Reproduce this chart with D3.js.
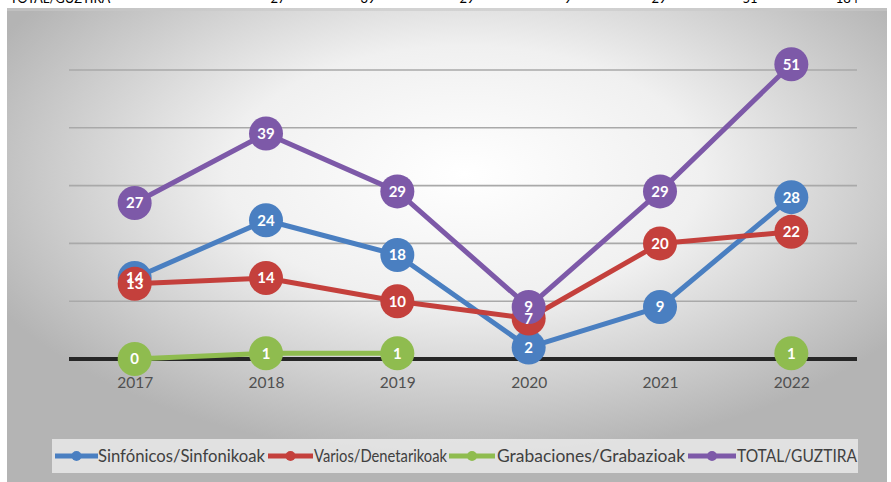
<!DOCTYPE html>
<html><head><meta charset="utf-8">
<script src="https://cdn.jsdelivr.net/npm/d3@7/dist/d3.min.js"></script>
<style>html,body{margin:0;padding:0;background:#fff;}svg{display:block;}</style>
</head><body>
<script>
const years = ["2017","2018","2019","2020","2021","2022"];
const sinfonicos = [14, 24, 18, 2, 9, 28];
const varios = [13, 14, 10, 7, 20, 22];
const grabaciones = [0, 1, 1, null, null, 1];
const total = [27, 39, 29, 9, 29, 51];
const seriesNames = ["Sinfónicos/Sinfonikoak","Varios/Denetarikoak","Grabaciones/Grabazioak","TOTAL/GUZTIRA"];
const seriesColors = ["#4a7fc1","#c4403c","#8fbc4f","#7d59a8"];
const yTicks = [10, 20, 30, 40, 50];
const topRowLabel = "TOTAL/GUZTIRA";
const topRowValues = ["27","39","29","9","29","51","184"];

const W = 891, H = 482;
const svg = d3.select("body").append("svg").attr("width", W).attr("height", H);
const defs = svg.append("defs");
const rg = defs.append("radialGradient").attr("id","bg")
  .attr("cx","0.52").attr("cy","0.35").attr("r","0.6").attr("fx","0.52").attr("fy","0.35");
rg.append("stop").attr("offset","0").attr("stop-color","#ffffff");
rg.append("stop").attr("offset","0.45").attr("stop-color","#f0f0f0");
rg.append("stop").attr("offset","1").attr("stop-color","#b4b4b4");

// cut-off top row
const topG = svg.append("g").attr("font-family","Lato, sans-serif").attr("font-size",13).attr("fill","#000");
topG.append("text").attr("x",10).attr("y",2.5).text(topRowLabel);
const topX = [278, 368, 467, 568, 659, 750, 847];
topRowValues.forEach((v,i)=>topG.append("text").attr("x",topX[i]).attr("y",2.5).attr("text-anchor","middle").text(v));

// panel
svg.append("rect").attr("x",7).attr("y",8).attr("width",880).attr("height",474).attr("fill","url(#bg)");
svg.append("rect").attr("x",7).attr("y",8).attr("width",880).attr("height",3).attr("fill","#c8c8c8").attr("opacity",0.6);

const x = d3.scalePoint().domain(years).range([69, 857]).padding(0.5);
const y = d3.scaleLinear().domain([0, 60]).range([359, 12.2]);

// gridlines
svg.append("g").selectAll("line").data(yTicks).join("line")
  .attr("x1",69).attr("x2",857).attr("y1",d=>y(d)).attr("y2",d=>y(d))
  .attr("stroke","#a9a9a9").attr("stroke-width",1.6);

// x axis
const xAxis = svg.append("g").attr("transform",`translate(0,${y(0)})`)
  .call(d3.axisBottom(x).tickSize(0).tickPadding(18));
xAxis.select(".domain").attr("stroke","#262626").attr("stroke-width",4).attr("d","M69,0H857");
xAxis.selectAll("text").attr("font-family","Lato, sans-serif").attr("font-size",15.5).attr("fill","#505050");

const data = [sinfonicos, varios, grabaciones, total];
const line = d3.line().defined(d=>d!=null).x((d,i)=>x(years[i])).y(d=>y(d));

data.forEach((s,k)=>{
  const g = svg.append("g");
  g.append("path").datum(s).attr("d", line).attr("fill","none")
    .attr("stroke", seriesColors[k]).attr("stroke-width",5).attr("stroke-linejoin","round");
  g.selectAll("circle").data(s.map((v,i)=>({v,i})).filter(d=>d.v!=null)).join("circle")
    .attr("cx",d=>x(years[d.i])).attr("cy",d=>y(d.v)).attr("r",17).attr("fill",seriesColors[k]);
});
data.forEach((s,k)=>{
  svg.append("g").selectAll("text").data(s.map((v,i)=>({v,i})).filter(d=>d.v!=null)).join("text")
    .attr("x",d=>x(years[d.i])).attr("y",d=>y(d.v)).attr("dy","0.36em").attr("text-anchor","middle")
    .attr("font-family","Lato, sans-serif").attr("font-weight","bold").attr("font-size",15).attr("fill","#fff")
    .text(d=>d.v);
});

// legend
svg.append("rect").attr("x",52).attr("y",439).attr("width",806).attr("height",34).attr("fill","#f3f3f3").attr("opacity",0.7);
const legItems = [
  {ls:55, le:98, ts:98, te:265},
  {ls:268, le:313, ts:314, te:447},
  {ls:449, le:495, ts:497, te:685},
  {ls:688, le:736, ts:737, te:857}
];
const ly = 456;
legItems.forEach((p,k)=>{
  svg.append("line").attr("x1",p.ls).attr("x2",p.le).attr("y1",ly).attr("y2",ly)
    .attr("stroke",seriesColors[k]).attr("stroke-width",5);
  svg.append("circle").attr("cx",(p.ls+p.le)/2).attr("cy",ly).attr("r",5).attr("fill",seriesColors[k]);
  svg.append("text").attr("x",p.ts).attr("y",ly).attr("dy","0.36em")
    .attr("font-family","Lato, sans-serif").attr("font-size",16.5).attr("fill","#404040")
    .attr("textLength",p.te-p.ts).attr("lengthAdjust","spacingAndGlyphs").text(seriesNames[k]);
});
</script>
</body></html>
